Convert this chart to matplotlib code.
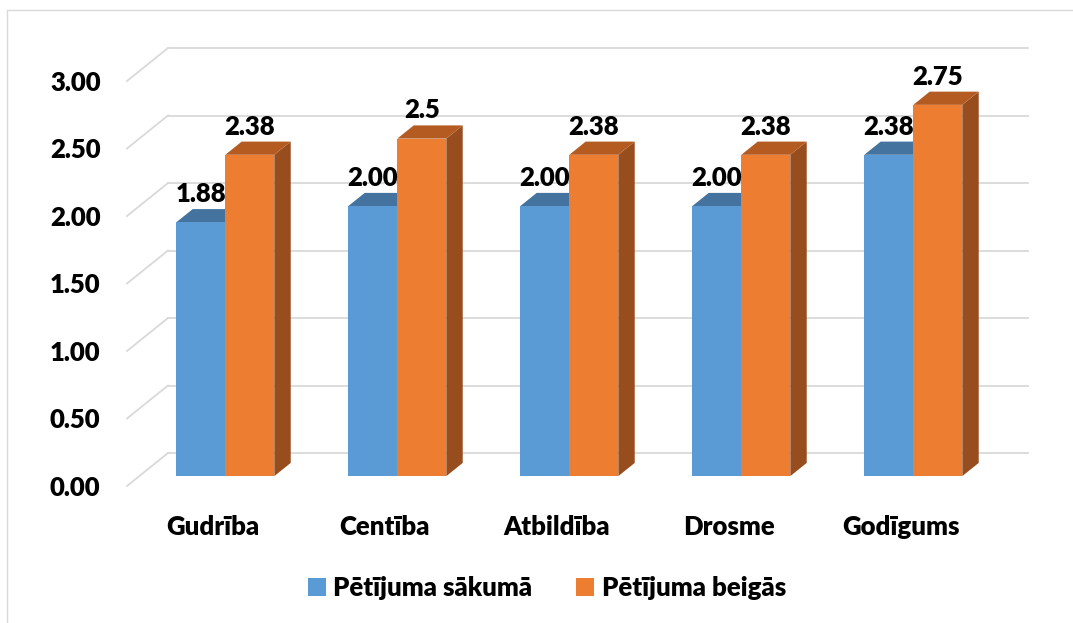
import numpy as np
import matplotlib.pyplot as plt
from matplotlib.patches import Polygon

# data
categories = ['Gudrība', 'Centība', 'Atbildība', 'Drosme', 'Godīgums']
series_names = ['Pētījuma sākumā', 'Pētījuma beigās']
start_vals = [1.88, 2.00, 2.00, 2.00, 2.38]
end_vals = [2.38, 2.50, 2.38, 2.38, 2.75]
end_labels = ['2.38', '2.5', '2.38', '2.38', '2.75']
y_ticks = [0.0, 0.5, 1.0, 1.5, 2.0, 2.5, 3.0]

colors_front = ['#5B9BD5', '#ED7D31']
colors_top = ['#44739F', '#B45B22']
colors_side = ['#3F6B96', '#974D1E']
grid_color = '#D9D9D9'

FONT = ['Lato', 'DejaVu Sans']
WEIGHT = 800
FS = 18.5
plt.rcParams['font.family'] = FONT
plt.rcParams['font.weight'] = WEIGHT

# fake 3d: depth of the floor in data units, bars sit in the middle 40%
DX, DY = 0.2384, 0.2444
D0, D1 = 0.3, 0.7
BAR_W = 0.285

fig = plt.figure(figsize=(10.73, 6.23), dpi=100)
W, H = 1073, 623
ax = fig.add_axes([127 / W, (H - 486) / H, (1028 - 127) / W, (486 - 48) / H])
ax.set_xlim(0, len(categories) + DX)
ax.set_ylim(0, 3 + DY)
ax.axis('off')

# outer chart border (left and top only are visible)
fig.add_artist(plt.Line2D([7 / W, 7 / W], [0, 1 - 10 / H], color='#D9D9D9', lw=1.0))
fig.add_artist(plt.Line2D([7 / W, 1], [1 - 10 / H, 1 - 10 / H], color='#D9D9D9', lw=1.0))

# gridlines: back wall + side wall diagonals
n = len(categories)
for v in y_ticks:
    ax.plot([DX, n + DX], [v + DY, v + DY], color=grid_color, lw=1.3, clip_on=False, zorder=1)
    ax.plot([0, DX], [v, v + DY], color=grid_color, lw=1.3, clip_on=False, zorder=1)
    ax.annotate(f'{v:.2f}', (0, v), xytext=(-19, 0), textcoords='offset points',
                ha='right', va='center_baseline', fontsize=FS, fontweight=WEIGHT)


def draw_bar(x0, val, k):
    base = D0 * DY
    x0 = x0 + D0 * DX
    x1 = x0 + BAR_W
    top = base + val
    bdx, bdy = (D1 - D0) * DX, (D1 - D0) * DY
    side = [(x1, base), (x1 + bdx, base + bdy), (x1 + bdx, top + bdy), (x1, top)]
    lid = [(x0, top), (x1, top), (x1 + bdx, top + bdy), (x0 + bdx, top + bdy)]
    ax.add_patch(Polygon(side, closed=True, fc=colors_side[k], ec='none', zorder=3 + k))
    ax.add_patch(Polygon(lid, closed=True, fc=colors_top[k], ec='none', zorder=3 + k))
    ax.add_patch(plt.Rectangle((x0, base), BAR_W, val, fc=colors_front[k], ec='none', zorder=3 + k))
    return (x0 + x1) / 2, top + bdy


for i, cat in enumerate(categories):
    c = i + 0.5
    cx, ty = draw_bar(c - BAR_W, start_vals[i], 0)
    ax.annotate(f'{start_vals[i]:.2f}', (cx, ty), xytext=(0, 5), textcoords='offset points',
                ha='center', va='baseline', fontsize=FS, fontweight=WEIGHT, zorder=10)
    cx, ty = draw_bar(c, end_vals[i], 1)
    ax.annotate(end_labels[i], (cx, ty), xytext=(0, 5), textcoords='offset points',
                ha='center', va='baseline', fontsize=FS, fontweight=WEIGHT, zorder=10)
    ax.annotate(cat, (c, 0), xytext=(0, -28), textcoords='offset points',
                ha='center', va='center_baseline', fontsize=FS, fontweight=WEIGHT)

# legend
handles = [plt.Rectangle((0, 0), 1, 1, fc=colors_front[k], ec='none') for k in range(2)]
fig.legend(handles, series_names, loc='center', bbox_to_anchor=(547 / W, 1 - 588 / H),
           ncol=2, frameon=False, handlelength=0.7, handleheight=0.7,
           handletextpad=0.3, columnspacing=1.7,
           prop={'family': FONT, 'weight': WEIGHT, 'size': 18.5})

fig.savefig('out.png', dpi=100)
